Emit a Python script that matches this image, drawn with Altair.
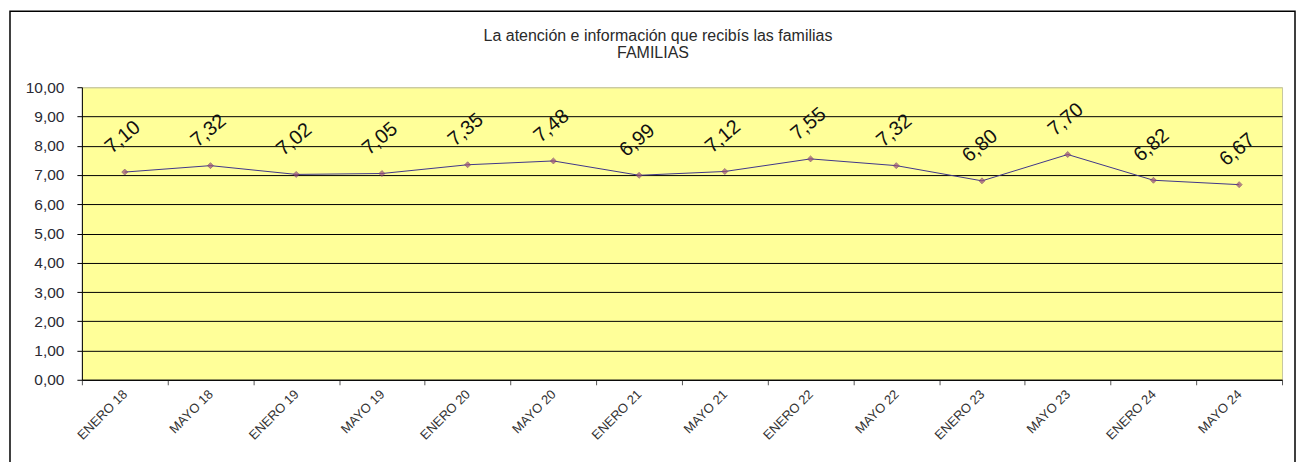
import altair as alt
import pandas as pd

periodos = ["ENERO 18", "MAYO 18", "ENERO 19", "MAYO 19", "ENERO 20", "MAYO 20",
            "ENERO 21", "MAYO 21", "ENERO 22", "MAYO 22", "ENERO 23", "MAYO 23",
            "ENERO 24", "MAYO 24"]
valores = [7.10, 7.32, 7.02, 7.05, 7.35, 7.48, 6.99, 7.12, 7.55, 7.32, 6.80, 7.70, 6.82, 6.67]
y_ticks = [0, 1, 2, 3, 4, 5, 6, 7, 8, 9, 10]
titulo = "La atención e información que recibís las familias"
subtitulo = "FAMILIAS"

df = pd.DataFrame({"periodo": periodos, "valor": valores})
FONT = "Liberation Sans"
W, H = 1202, 293

x_enc = alt.X("periodo:N", sort=periodos, title=None,
              scale=alt.Scale(type="band", paddingInner=0, paddingOuter=0),
              axis=alt.Axis(tickBand="extent", labelAngle=-45, labelAlign="right",
                            labelBaseline="middle", labelFontSize=13, labelFont=FONT,
                            labelColor="#333333", labelPadding=7, tickSize=5,
                            domainColor="black", tickColor="#555555", grid=False))
y_enc = alt.Y("valor:Q", title=None,
              scale=alt.Scale(domain=[0, 10], nice=False, zero=True),
              axis=alt.Axis(values=y_ticks, labelExpr="replace(format(datum.value, '.2f'), '.', ',')",
                            labelFontSize=15.5, labelFont=FONT, labelColor="#2a2a33",
                            labelPadding=13, tickSize=5, tickColor="black",
                            domainColor="black", grid=True,
                            gridColor={"condition": {"test": "datum.value === 10", "value": "#c8c8a0"},
                                       "value": "black"},
                            gridWidth=1))

base = alt.Chart(df)
one = alt.Chart(pd.DataFrame({"k": [0]}))

line = base.mark_line(color="#40368a", strokeWidth=1).encode(x=x_enc, y=y_enc)
pts = base.mark_point(shape="diamond", filled=True, size=36, color="#9a4d7a",
                      stroke="#6b3a6b", strokeWidth=0.8).encode(x=x_enc, y=y_enc)
labels = base.transform_calculate(
    lab="replace(format(datum.valor, '.2f'), '.', ',')"
).mark_text(angle=320, dx=21, dy=-28, fontSize=20, font=FONT, fontWeight="normal",
            color="#111111").encode(x=x_enc, y=y_enc, text="lab:N")

t1 = one.mark_text(fontSize=16, font=FONT, fontWeight="normal", color="#2a2a2a").encode(
    x=alt.value(577), y=alt.value(-51), text=alt.datum(titulo))
t2 = one.mark_text(fontSize=16, font=FONT, fontWeight="normal", color="#2a2a2a").encode(
    x=alt.value(572), y=alt.value(-34), text=alt.datum(subtitulo))
frame = one.mark_rect(fill=None, stroke="black", strokeWidth=1.5).encode(
    x=alt.value(-72), x2=alt.value(1215), y=alt.value(-76), y2=alt.value(420))

chart = alt.layer(line, pts, labels, t1, t2, frame).properties(
    width=W, height=H,
    autosize=alt.AutoSizeParams(type="none"),
    padding={"left": 74, "top": 79, "right": 14, "bottom": 82},
    background="white",
).configure_view(fill="#FFFF99", stroke="#c8c8a0", strokeWidth=1)

chart.save("out.html", embed_options={"renderer": "svg", "actions": False})
